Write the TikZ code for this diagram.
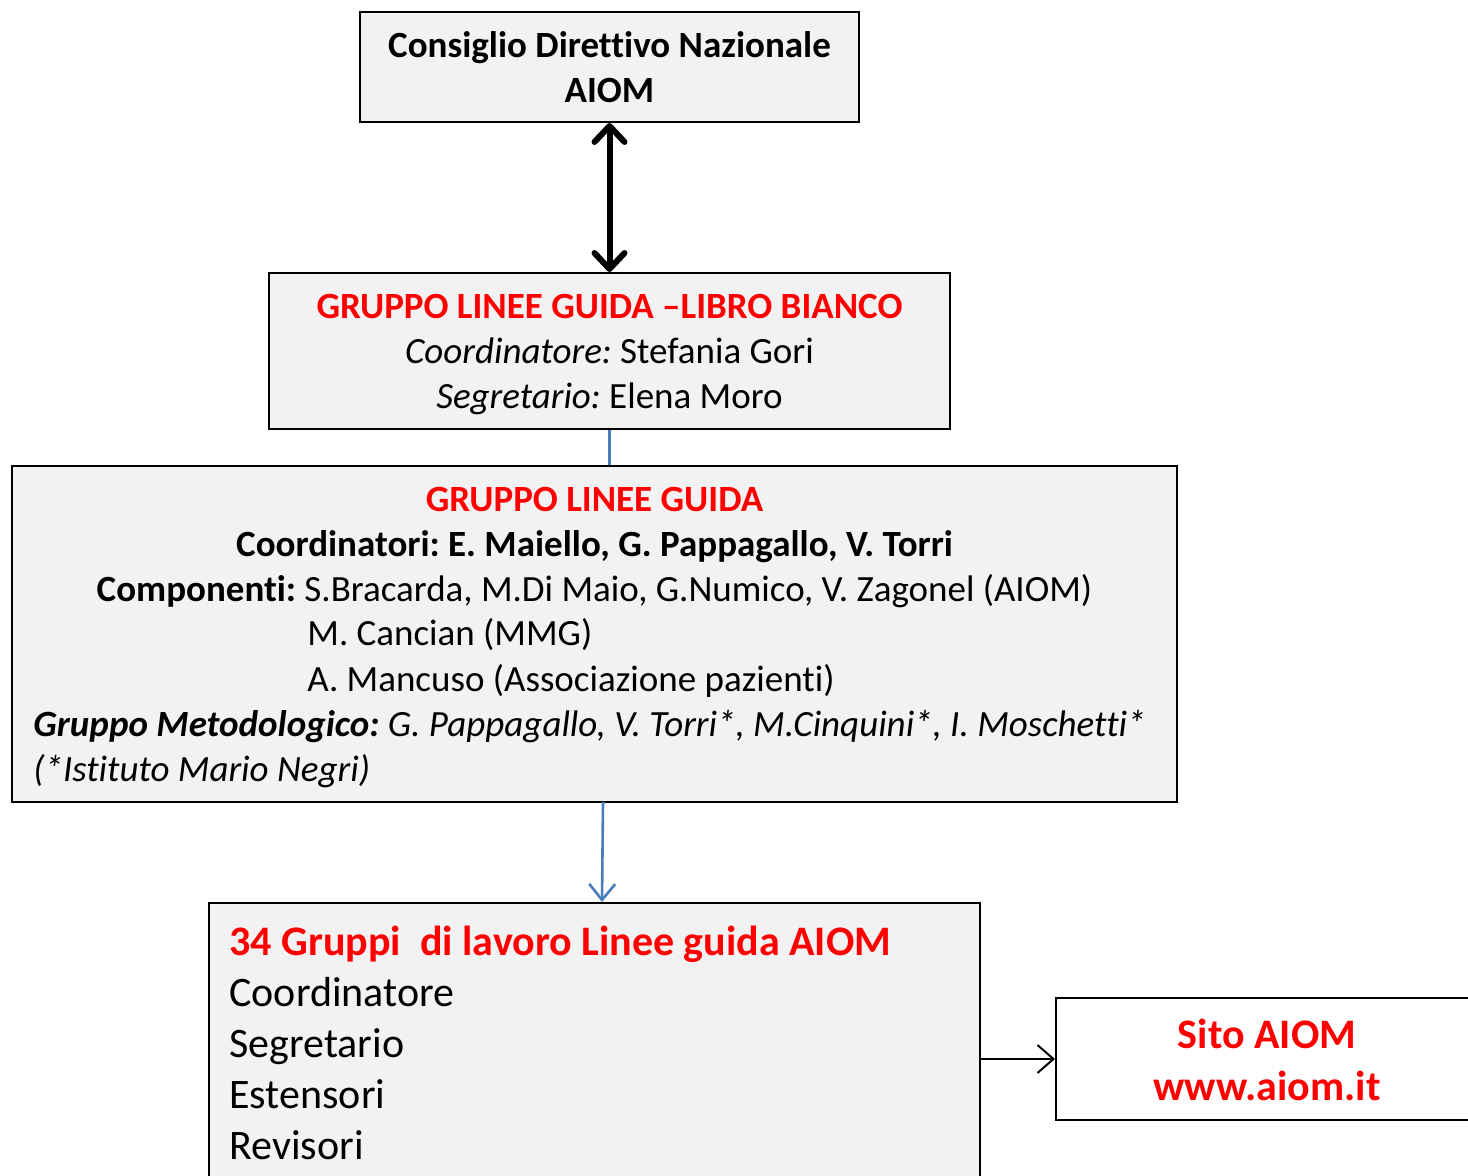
\documentclass[tikz,border=0pt]{standalone}
\usepackage{fontspec}
\setmainfont{Carlito}[Ligatures=NoCommon]
\usepackage{xcolor}
\usepackage{tikz}
\usetikzlibrary{positioning,arrows.meta}
\definecolor{boxgray}{HTML}{F2F2F2}
\definecolor{aiomred}{HTML}{FF0000}
\definecolor{linkblue}{HTML}{4A7EBB}
\frenchspacing

\begin{document}
\begin{tikzpicture}[x=0.5pt,y=-0.5pt,
    box/.style={draw, line width=1pt, fill=boxgray, inner sep=0pt},
    txt/.style={font=\fontsize{18.5}{22}\selectfont, inner sep=0pt},
    big/.style={font=\fontsize{21}{25}\selectfont, inner sep=0pt},
    hl/.style={text=aiomred, font=\bfseries\fontsize{18.5}{22}\selectfont, inner sep=0pt},
    hlbig/.style={text=aiomred, font=\bfseries\fontsize{21}{25}\selectfont, inner sep=0pt}]
    \clip (0,0) rectangle (1468,1176);
    \fill[white] (0,0) rectangle (1468,1176);

    % boxes
    \node[box, minimum width=249.5pt, minimum height=55pt] (cdn) at (609.5,67) {};
    \node[box, minimum width=340.5pt, minimum height=78pt] (lb) at (609.5,351) {};
    \node[box, minimum width=582.5pt, minimum height=168pt] (glg) at (594.5,634) {};
    \node[box, minimum width=385.5pt, minimum height=150pt] (wg) at (594.5,1053) {};
    \node[box, fill=white, minimum width=211pt, minimum height=61pt] (web) at (1267,1059) {};

    % texts
    \node[txt, font=\bfseries\fontsize{18.5}{22}\selectfont, anchor=base] (cdn1) at (609.5,58) {Consiglio Direttivo Nazionale};
    \node[txt, font=\bfseries\fontsize{18.5}{22}\selectfont, anchor=base] (cdn2) at (609.5,103) {AIOM};

    \node[hl, anchor=base] (lb1) at (609.5,319) {GRUPPO LINEE GUIDA –LIBRO BIANCO};
    \node[txt, anchor=base] (lb2) at (609.5,364) {\textit{Coordinatore:} Stefania Gori};
    \node[txt, anchor=base] (lb3) at (609.5,409) {\textit{Segretario:} Elena Moro};

    \node[hl, anchor=base] (g1) at (594.5,512) {GRUPPO LINEE GUIDA};
    \node[txt, font=\bfseries\fontsize{18.5}{22}\selectfont, anchor=base] (g2) at (594.5,557) {Coordinatori: E. Maiello, G. Pappagallo, V. Torri};
    \node[txt, anchor=base] (g3) at (594.5,602) {\textbf{Componenti:} S.Bracarda, M.Di Maio, G.Numico, V. Zagonel (AIOM)};
    \node[txt, anchor=base west] (g4) at (307,646) {M. Cancian (MMG)};
    \node[txt, anchor=base west] (g5) at (307,691) {A. Mancuso (Associazione pazienti)};
    \node[txt, font=\itshape\fontsize{18.5}{22}\selectfont, anchor=base west] (g6) at (33,736) {\textbf{Gruppo Metodologico:} G. Pappagallo, V. Torri*, M.Cinquini*, I. Moschetti*};
    \node[txt, font=\itshape\fontsize{18.5}{22}\selectfont, anchor=base west] (g7) at (33,781) {(*Istituto Mario Negri)};

    \node[hlbig, anchor=base west] (w1) at (229,955) {34 Gruppi\ \ di lavoro Linee guida AIOM};
    \node[big, anchor=base west] (w2) at (229,1006) {Coordinatore};
    \node[big, anchor=base west] (w3) at (229,1057) {Segretario};
    \node[big, anchor=base west] (w4) at (229,1108) {Estensori};
    \node[big, anchor=base west] (w5) at (229,1159) {Revisori};

    \node[hlbig, anchor=base] (s1) at (1267,1048) {Sito AIOM};
    \node[hlbig, anchor=base] (s2) at (1267,1100) {www.aiom.it};

    % connectors
    \draw[line width=3pt, {Straight Barb[length=8pt,width=15pt,round]}-{Straight Barb[length=8pt,width=15pt,round]}] (cdn.south) -- (lb.north);
    \draw[linkblue, line width=1.3pt] (lb.south) -- (glg.north -| lb.south);
    \coordinate (ta) at (603,802);
    \coordinate (tb) at (602,902);
    \draw[linkblue, line width=1.3pt, -{Straight Barb[length=8pt,width=13pt]}] (ta) -- (tb);
    \draw[line width=1pt, -{Straight Barb[length=8pt,width=14pt]}] (wg.east |- web.west) -- (web.west);
\end{tikzpicture}
\end{document}
